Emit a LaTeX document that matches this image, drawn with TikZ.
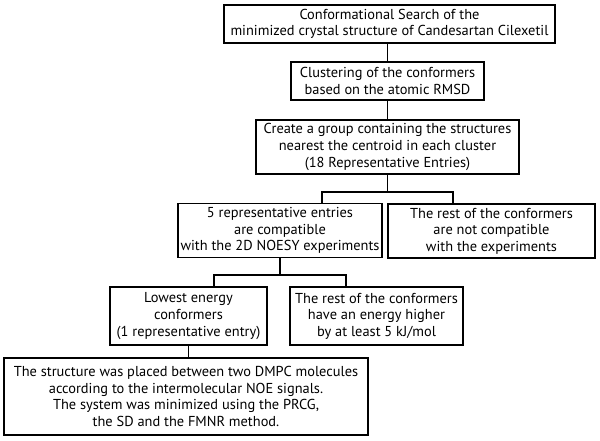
\documentclass[tikz,border=0pt]{standalone}
\usepackage{fontspec}
\setmainfont{PT Sans}
\usetikzlibrary{positioning, calc}

\begin{document}
\begin{tikzpicture}[
    x=1pt, y=-1pt,
    box/.style={rectangle, draw, line width=1.2pt, align=center, inner sep=1pt,
        font=\fontsize{14.4}{16.6}\selectfont},
    link/.style={line width=1.2pt}
]
    \useasboundingbox (0,0) rectangle (600,440);

    \node[box, minimum width=331pt, minimum height=38pt] (search) at (389.5,24)
        {Conformational Search of the\\minimized crystal structure of Candesartan Cilexetil};
    \node[box, minimum width=193pt, minimum height=38pt] (cluster) at (387.5,81)
        {Clustering of the conformers\\based on the atomic RMSD};
    \node[box, minimum width=263pt, minimum height=54pt] (group) at (387.5,147)
        {Create a group containing the structures\\nearest the centroid in each cluster\\(18 Representative Entries)};
    \node[box, minimum width=204pt, minimum height=54pt] (compat) at (280,230.5)
        {5 representative entries\\are compatible\\with the 2D NOESY experiments};
    \node[box, minimum width=207pt, minimum height=54pt] (notcompat) at (491.5,231)
        {The rest of the conformers\\are not compatible\\with the experiments};
    \node[box, minimum width=157pt, minimum height=58pt] (lowest) at (188.5,316)
        {Lowest energy\\conformers\\(1 representative entry)};
    \node[box, minimum width=173pt, minimum height=58pt] (higher) at (376.5,316)
        {The rest of the conformers\\have an energy higher\\by at least 5 kJ/mol};
    \node[box, minimum width=364pt, minimum height=77pt] (dmpc) at (186,396.5)
        {The structure was placed between two DMPC molecules\\according to the intermolecular NOE signals.\\The system was minimized using the PRCG,\\the SD and the FMNR method.};

    % branch points
    \coordinate (jl) at (322,192);
    \coordinate (jr) at (453,192);
    \coordinate (kl) at (214,275);
    \coordinate (kr) at (346,275);

    \draw[link] (cluster.north) -- (cluster.north |- search.south);
    \draw[link] (group) -- (cluster);
    \draw[link] (group.south) -- (group.south |- jl);
    \draw[link] (jl |- compat.north) -- (jl) -- (jr) -- (jr |- notcompat.north);
    \draw[link] (compat.south) -- (compat.south |- kl);
    \draw[link] (kl |- lowest.north) -- (kl) -- (kr) -- (kr |- higher.north);
    \draw[link] (lowest) -- (lowest |- dmpc.north);
\end{tikzpicture}
\end{document}
